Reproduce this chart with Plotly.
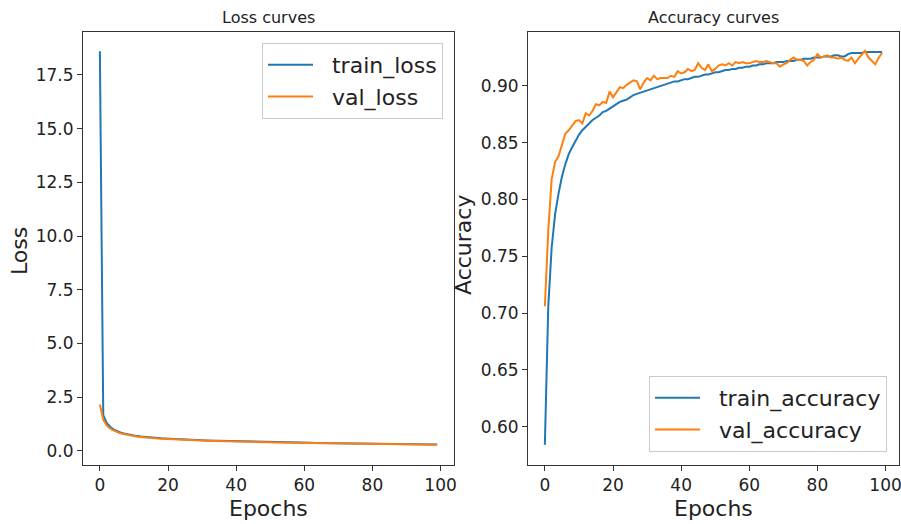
import plotly.graph_objects as go

epochs = list(range(100))

train_loss = [18.6, 1.66, 1.30, 1.12, 1.00, 0.92, 0.86, 0.81, 0.77, 0.735,
              0.71, 0.685, 0.665, 0.645, 0.63, 0.615, 0.60, 0.59, 0.58, 0.57,
              0.56, 0.55, 0.54, 0.533, 0.526, 0.52, 0.513, 0.507, 0.50, 0.495,
              0.49, 0.485, 0.48, 0.475, 0.47, 0.465, 0.46, 0.455, 0.45, 0.445,
              0.44, 0.436, 0.432, 0.428, 0.424, 0.42, 0.417, 0.414, 0.411, 0.408,
              0.405, 0.402, 0.399, 0.396, 0.393, 0.39, 0.387, 0.384, 0.381, 0.378,
              0.375, 0.373, 0.371, 0.369, 0.367, 0.365, 0.363, 0.361, 0.359, 0.357,
              0.355, 0.353, 0.351, 0.349, 0.347, 0.345, 0.343, 0.341, 0.339, 0.337,
              0.335, 0.333, 0.331, 0.329, 0.327, 0.325, 0.323, 0.321, 0.319, 0.317,
              0.315, 0.313, 0.311, 0.309, 0.307, 0.305, 0.303, 0.301, 0.299, 0.297]

val_loss = [2.16, 1.45, 1.18, 1.04, 0.95, 0.88, 0.82, 0.78, 0.74, 0.71,
            0.685, 0.66, 0.64, 0.625, 0.61, 0.595, 0.58, 0.57, 0.56, 0.55,
            0.54, 0.532, 0.524, 0.517, 0.51, 0.504, 0.498, 0.49, 0.486, 0.48,
            0.475, 0.47, 0.465, 0.46, 0.455, 0.45, 0.446, 0.441, 0.437, 0.432,
            0.428, 0.424, 0.42, 0.416, 0.412, 0.408, 0.405, 0.402, 0.399, 0.396,
            0.393, 0.39, 0.387, 0.384, 0.381, 0.378, 0.375, 0.372, 0.37, 0.367,
            0.365, 0.362, 0.36, 0.358, 0.356, 0.353, 0.351, 0.349, 0.347, 0.345,
            0.343, 0.341, 0.339, 0.337, 0.335, 0.333, 0.331, 0.329, 0.327, 0.325,
            0.323, 0.321, 0.319, 0.317, 0.315, 0.313, 0.311, 0.309, 0.307, 0.305,
            0.303, 0.301, 0.299, 0.297, 0.295, 0.293, 0.291, 0.289, 0.287, 0.285]

train_acc = [0.584, 0.706, 0.758, 0.787, 0.805, 0.820, 0.831, 0.840, 0.846, 0.852,
             0.857, 0.861, 0.864, 0.867, 0.870, 0.872, 0.874, 0.877, 0.878, 0.880,
             0.882, 0.884, 0.886, 0.887, 0.888, 0.890, 0.892, 0.893, 0.894, 0.895,
             0.896, 0.897, 0.898, 0.899, 0.900, 0.901, 0.902, 0.903, 0.904, 0.904,
             0.905, 0.906, 0.906, 0.907, 0.908, 0.908, 0.909, 0.910, 0.910, 0.911,
             0.912, 0.912, 0.913, 0.914, 0.914, 0.915, 0.915, 0.916, 0.916, 0.917,
             0.917, 0.918, 0.918, 0.919, 0.919, 0.920, 0.920, 0.920, 0.921, 0.921,
             0.921, 0.922, 0.922, 0.922, 0.923, 0.923, 0.924, 0.924, 0.924, 0.925,
             0.925, 0.925, 0.926, 0.926, 0.926, 0.927, 0.927, 0.926, 0.926, 0.928,
             0.929, 0.929, 0.929, 0.929, 0.930, 0.930, 0.930, 0.930, 0.930, 0.930]

val_acc = [0.706, 0.773, 0.818, 0.833, 0.838, 0.847, 0.858, 0.861, 0.865, 0.869,
           0.870, 0.867, 0.876, 0.874, 0.878, 0.884, 0.883, 0.886, 0.885, 0.895,
           0.890, 0.894, 0.899, 0.898, 0.901, 0.903, 0.905, 0.904, 0.897, 0.903,
           0.907, 0.905, 0.909, 0.906, 0.907, 0.907, 0.907, 0.909, 0.908, 0.913,
           0.911, 0.912, 0.915, 0.913, 0.914, 0.920, 0.916, 0.914, 0.919, 0.913,
           0.915, 0.918, 0.919, 0.918, 0.920, 0.918, 0.921, 0.920, 0.921, 0.920,
           0.920, 0.921, 0.922, 0.921, 0.921, 0.922, 0.921, 0.920, 0.920, 0.917,
           0.919, 0.920, 0.923, 0.925, 0.923, 0.923, 0.922, 0.918, 0.921, 0.923,
           0.928, 0.925, 0.926, 0.927, 0.925, 0.925, 0.924, 0.925, 0.923, 0.922,
           0.925, 0.920, 0.924, 0.928, 0.931, 0.925, 0.922, 0.919, 0.925, 0.929]

series_names = ["train_loss", "val_loss", "train_accuracy", "val_accuracy"]

BLUE = "#1f77b4"
ORANGE = "#ff7f0e"
FONT = "DejaVu Sans"
W, H = 901, 524
PAD = "\u00a0\u00a0"

fig = go.Figure()
fig.add_trace(go.Scatter(x=epochs, y=train_loss, mode="lines", name=PAD + series_names[0],
                         line=dict(color=BLUE, width=2), xaxis="x", yaxis="y", legend="legend"))
fig.add_trace(go.Scatter(x=epochs, y=val_loss, mode="lines", name=PAD + series_names[1],
                         line=dict(color=ORANGE, width=2), xaxis="x", yaxis="y", legend="legend"))
fig.add_trace(go.Scatter(x=epochs, y=train_acc, mode="lines", name=PAD + series_names[2],
                         line=dict(color=BLUE, width=2), xaxis="x2", yaxis="y2", legend="legend2"))
fig.add_trace(go.Scatter(x=epochs, y=val_acc, mode="lines", name=PAD + series_names[3],
                         line=dict(color=ORANGE, width=2), xaxis="x2", yaxis="y2", legend="legend2"))

def px_x(p):
    return p / W

def px_y(p):
    return 1 - p / H

axis_common = dict(showline=True, linecolor="#333333", linewidth=1, mirror=True,
                   ticks="outside", ticklen=5, tickcolor="#333333", showgrid=False,
                   zeroline=False, automargin=False, ticklabeloverflow="allow",
                   tickfont=dict(family=FONT, size=17, color="#222222"))

legend_common = dict(bgcolor="rgba(255,255,255,0.8)", bordercolor="#cccccc", borderwidth=1,
                     font=dict(family=FONT, size=22, color="#222222"), itemwidth=45,
                     tracegroupgap=0)

fig.update_layout(
    template="none",
    width=W, height=H,
    margin=dict(l=0, r=0, t=0, b=0, autoexpand=False),
    paper_bgcolor="white", plot_bgcolor="white",
    font=dict(family=FONT, color="#222222"),
    xaxis=dict(domain=[px_x(83), px_x(454)], range=[-4.95, 103.95], dtick=20, tick0=0,
               anchor="y", **axis_common),
    yaxis=dict(domain=[px_y(465), px_y(32)], range=[-0.66, 19.5], dtick=2.5, tick0=0,
               tickformat=".1f", anchor="x", **axis_common),
    xaxis2=dict(domain=[px_x(528), px_x(899)], range=[-4.95, 103.95], dtick=20, tick0=0,
                anchor="y2", **axis_common),
    yaxis2=dict(domain=[px_y(465), px_y(32)], range=[0.5663, 0.9475], dtick=0.05, tick0=0.6,
                tickformat=".2f", anchor="x2", **axis_common),
    legend=dict(x=px_x(443), y=px_y(43), xanchor="right", yanchor="top", **legend_common),
    legend2=dict(x=px_x(887), y=px_y(452), xanchor="right", yanchor="bottom", **legend_common),
    showlegend=True,
)

def ann(text, x, y, size, angle=0):
    return dict(text=text, x=px_x(x), y=px_y(y), xref="paper", yref="paper",
                xanchor="center", yanchor="middle", textangle=angle, showarrow=False,
                font=dict(family=FONT, size=size, color="#222222"))

annotations = [
    ann("Loss curves", 268, 17, 16),
    ann("Accuracy curves", 713, 17, 16),
    ann("Epochs", 268, 508, 22),
    ann("Epochs", 713, 508, 22),
    ann("Loss", 20, 251, 22, -90),
    ann("Accuracy", 463, 245, 22, -90),
]
fig.update_layout(annotations=annotations)

fig.write_html("out.html",
               config={"displayModeBar": False},
               post_script="document.body.style.margin='0';document.body.style.padding='0';"
                           "document.body.style.overflow='hidden';")
